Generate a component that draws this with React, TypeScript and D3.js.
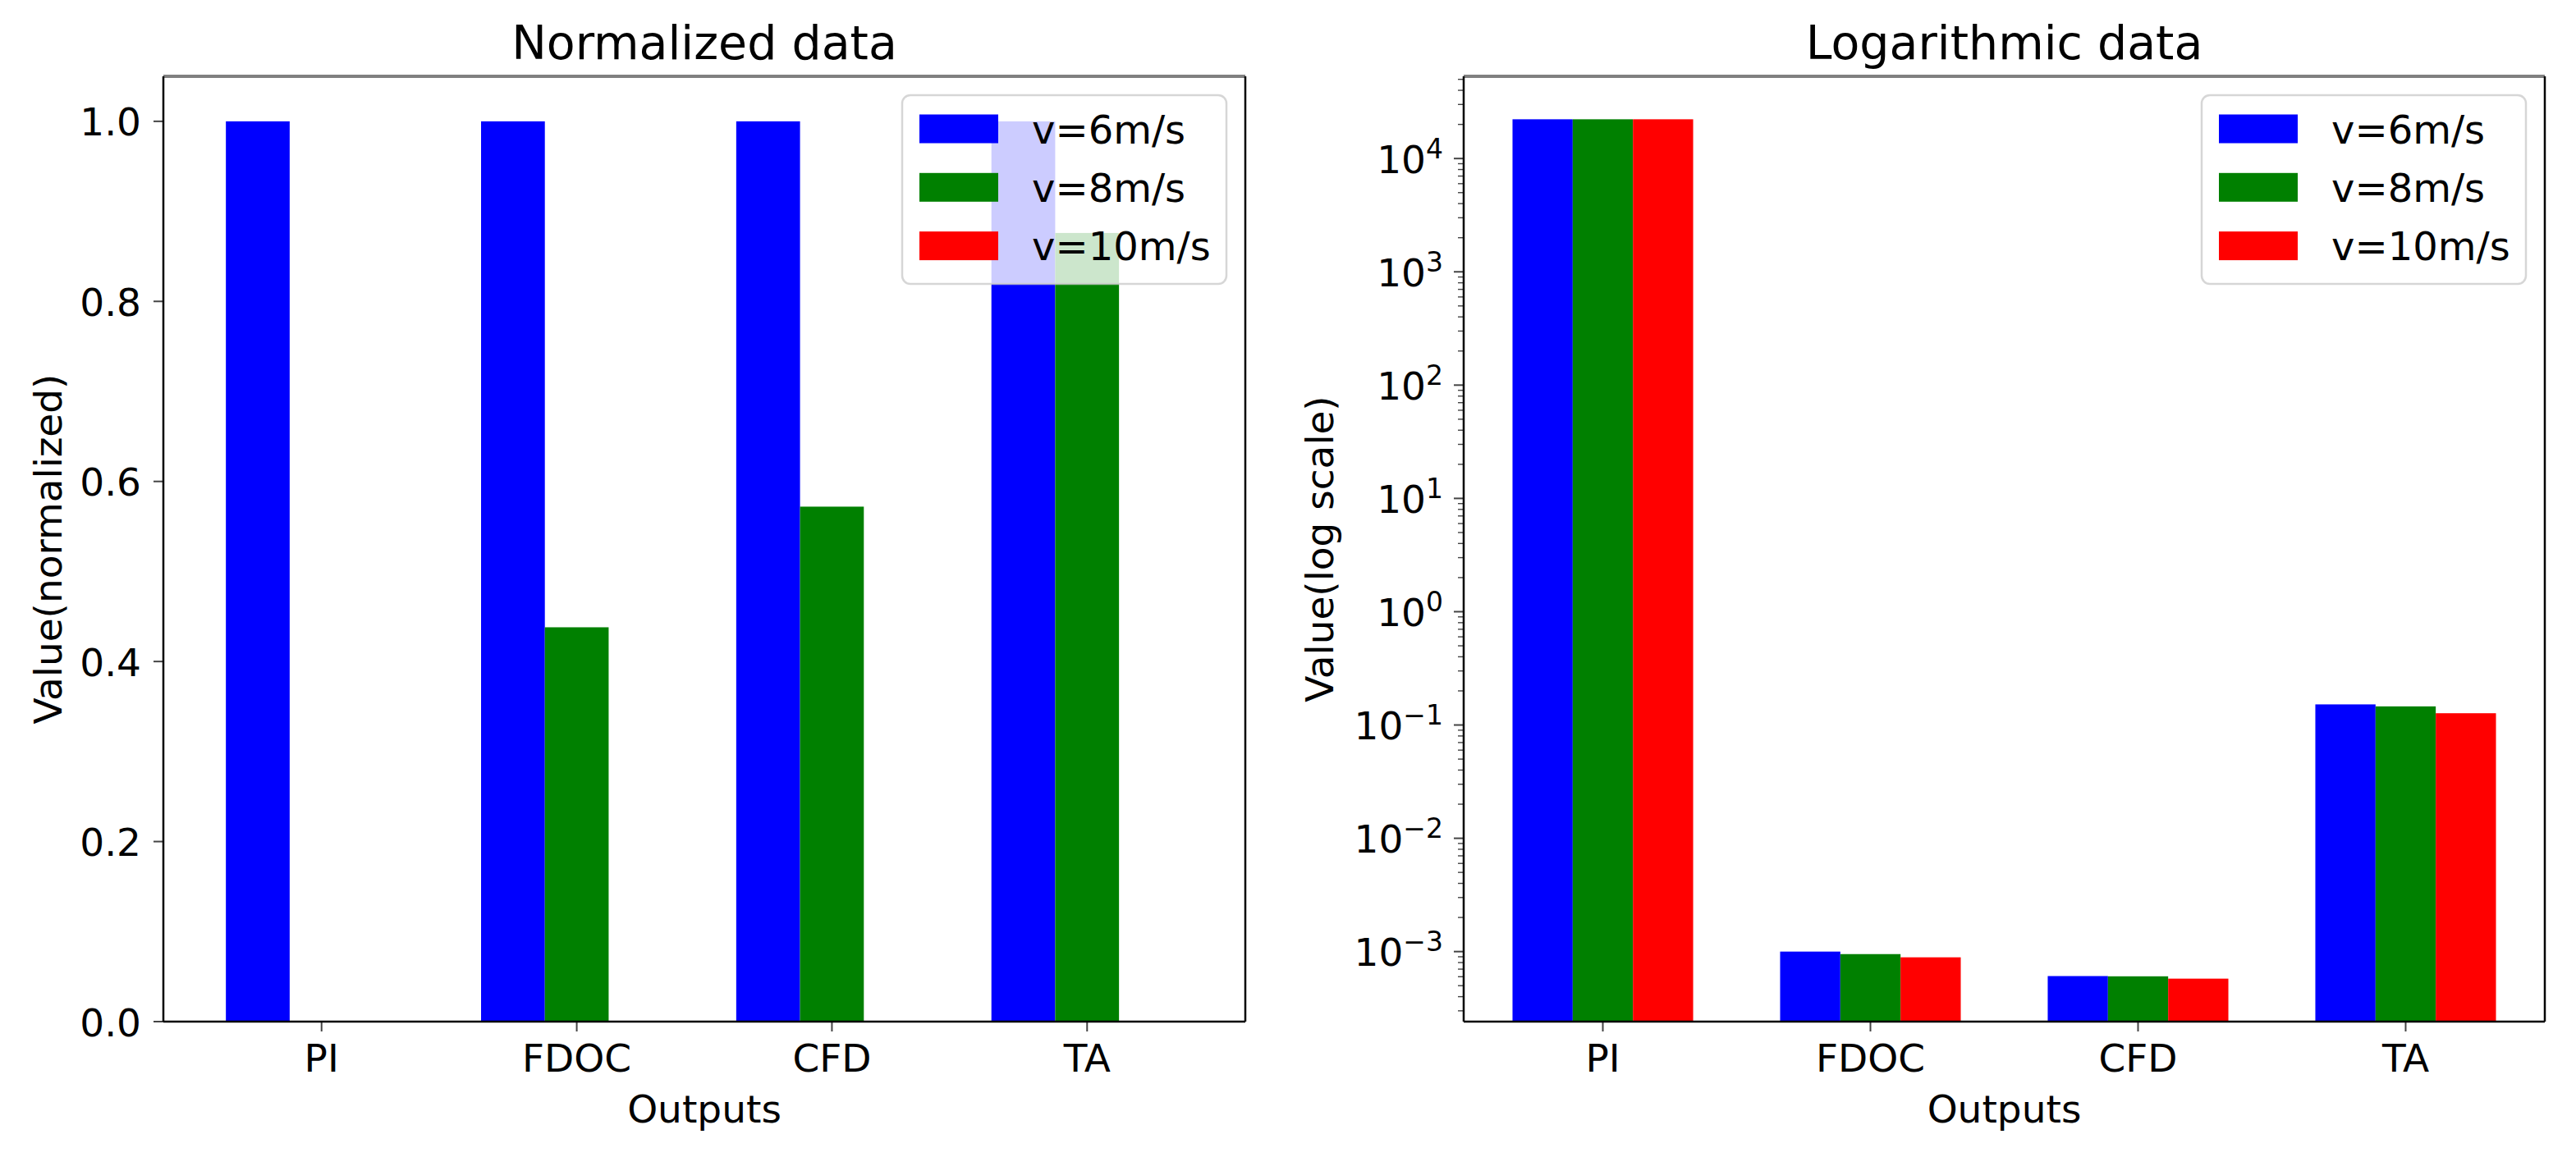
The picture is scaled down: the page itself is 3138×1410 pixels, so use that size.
import React from 'react';
import * as d3 from 'd3';

// outputs and wind speeds
const categories = ['PI', 'FDOC', 'CFD', 'TA'];
const seriesNames = ['v=6m/s', 'v=8m/s', 'v=10m/s'];
const seriesColors = ['blue', 'green', 'red'];

// left panel: normalized values
const normV6 = [1.0, 1.0, 1.0, 1.0];
const normV8 = [0, 0.438, 0.572, 0.876];
const normV10 = [0, 0, 0, 0];

// right panel: raw values on a log axis
const logV6 = [22200, 1.0e-3, 6.08e-4, 0.152];
const logV8 = [22200, 9.5e-4, 6.05e-4, 0.146];
const logV10 = [22200, 8.9e-4, 5.77e-4, 0.127];

const normTicks = [0, 0.2, 0.4, 0.6, 0.8, 1.0];
const logMajorExps = [-3, -2, -1, 0, 1, 2, 3, 4];

const W = 3138;
const H = 1410;
const FONT = '"DejaVu Sans", Verdana, sans-serif';
const TICK_FS = 47;
const TITLE_FS = 57;

const axTop = 93;
const axBottom = 1245;

interface PanelProps {
    title: string;
    ylabel: string;
    left: number;
    right: number;
    xDomain: [number, number];
    barWidth: number;
    series: number[][];
    log: boolean;
    ylabelX: number;
}

const Legend: React.FC<{ axRight: number }> = ({ axRight }) => {
    const fw = 395;
    const fh = 230;
    const fx = axRight - 23 - fw;
    const fy = axTop + 23;
    return (
        <g>
            <rect x={fx} y={fy} width={fw} height={fh} rx={10} ry={10}
                fill="white" fillOpacity={0.8} stroke="#cccccc" strokeOpacity={0.8} strokeWidth={2.5} />
            {seriesNames.map((name, i) => {
                const py = fy + 23.5 + i * 71.3;
                return (
                    <g key={name}>
                        <rect x={fx + 21} y={py} width={96} height={35} fill={seriesColors[i]} />
                        <text x={fx + 158} y={py + 35} fontSize={48} fontFamily={FONT} fill="black">{name}</text>
                    </g>
                );
            })}
        </g>
    );
};

const Panel: React.FC<PanelProps> = ({ title, ylabel, left, right, xDomain, barWidth, series, log, ylabelX }) => {
    const x = d3.scaleLinear().domain(xDomain).range([left, right]);

    let y: (v: number) => number;
    let yTicks: { v: number; minor: boolean }[] = [];
    if (log) {
        const all = series.flat();
        const lo = Math.log10(d3.min(all) as number);
        const hi = Math.log10(d3.max(all) as number);
        const m = (hi - lo) * 0.05;
        const ys = d3.scaleLog().domain([Math.pow(10, lo - m), Math.pow(10, hi + m)]).range([axBottom, axTop]);
        y = ys;
        const [d0, d1] = ys.domain();
        for (let e = Math.floor(Math.log10(d0)); e <= Math.ceil(Math.log10(d1)); e++) {
            for (let k = 1; k <= 9; k++) {
                const v = k * Math.pow(10, e);
                if (v >= d0 && v <= d1) yTicks.push({ v, minor: k !== 1 });
            }
        }
    } else {
        const ys = d3.scaleLinear().domain([0, 1.05]).range([axBottom, axTop]);
        y = ys;
        yTicks = normTicks.map(v => ({ v, minor: false }));
    }

    const offsets = [-barWidth, 0, barWidth];
    const cx = (left + right) / 2;
    const cy = (axTop + axBottom) / 2;

    return (
        <g>
            <text x={cx} y={72} textAnchor="middle" fontSize={TITLE_FS} fontFamily={FONT}>{title}</text>

            {/* bars */}
            <g>
                {series.map((vals, si) =>
                    vals.map((v, ci) => {
                        if (!(v > 0)) return null;
                        const x0 = x(ci + offsets[si] - barWidth / 2);
                        const x1 = x(ci + offsets[si] + barWidth / 2);
                        const top = y(v);
                        return (
                            <rect key={`${si}-${ci}`} x={x0} y={top} width={x1 - x0} height={axBottom - top}
                                fill={seriesColors[si]} />
                        );
                    })
                )}
            </g>

            {/* y ticks */}
            <g>
                {yTicks.map(t => {
                    const ty = y(t.v);
                    const len = t.minor ? 7 : 12;
                    return (
                        <line key={`t-${t.v}`} x1={left - len} x2={left} y1={ty} y2={ty}
                            stroke="#444" strokeWidth={t.minor ? 1.4 : 2} />
                    );
                })}
                {yTicks.filter(t => !t.minor).map(t => {
                    const ty = y(t.v) + 17.5;
                    if (log) {
                        const e = Math.round(Math.log10(t.v));
                        return (
                            <text key={`l-${t.v}`} x={left - 25} y={ty} textAnchor="end" fontSize={TICK_FS} fontFamily={FONT}>
                                10<tspan fontSize={33} dy={-18}>{e < 0 ? `\u2212${-e}` : `${e}`}</tspan>
                            </text>
                        );
                    }
                    return (
                        <text key={`l-${t.v}`} x={left - 27} y={ty} textAnchor="end" fontSize={TICK_FS} fontFamily={FONT}>
                            {d3.format('.1f')(t.v)}
                        </text>
                    );
                })}
            </g>

            {/* x ticks */}
            <g>
                {categories.map((c, i) => (
                    <g key={c}>
                        <line x1={x(i)} x2={x(i)} y1={axBottom} y2={axBottom + 12} stroke="#444" strokeWidth={2} />
                        <text x={x(i)} y={1306} textAnchor="middle" fontSize={TICK_FS} fontFamily={FONT}>{c}</text>
                    </g>
                ))}
            </g>

            <text x={cx} y={1368} textAnchor="middle" fontSize={TICK_FS} fontFamily={FONT}>Outputs</text>
            <text transform={`translate(${ylabelX},${cy}) rotate(-90)`} textAnchor="middle" fontSize={TICK_FS} fontFamily={FONT}>
                {ylabel}
            </text>

            {/* spines */}
            <line x1={left} x2={right} y1={axTop} y2={axTop} stroke="#808080" strokeWidth={4} />
            <line x1={left} x2={left} y1={axTop} y2={axBottom} stroke="black" strokeWidth={2.5} />
            <line x1={right} x2={right} y1={axTop} y2={axBottom} stroke="black" strokeWidth={2.5} />
            <line x1={left} x2={right} y1={axBottom} y2={axBottom} stroke="black" strokeWidth={2.5} />

            <Legend axRight={right} />
        </g>
    );
};

const App: React.FC = () => {
    return (
        <div style={{ position: 'absolute', left: 0, top: 0, background: 'white' }}>
            <svg width={W} height={H} viewBox={`0 0 ${W} ${H}`} style={{ display: 'block' }}>
                <rect x={0} y={0} width={W} height={H} fill="white" />
                <Panel
                    title="Normalized data"
                    ylabel="Value(normalized)"
                    left={199}
                    right={1517}
                    xDomain={[-0.62, 3.62]}
                    barWidth={0.25}
                    series={[normV6, normV8, normV10]}
                    log={false}
                    ylabelX={75}
                />
                <Panel
                    title="Logarithmic data"
                    ylabel="Value(log scale)"
                    left={1783}
                    right={3100}
                    xDomain={[-0.52, 3.52]}
                    barWidth={0.225}
                    series={[logV6, logV8, logV10]}
                    log={true}
                    ylabelX={1624}
                />
            </svg>
        </div>
    );
};

export default App;
